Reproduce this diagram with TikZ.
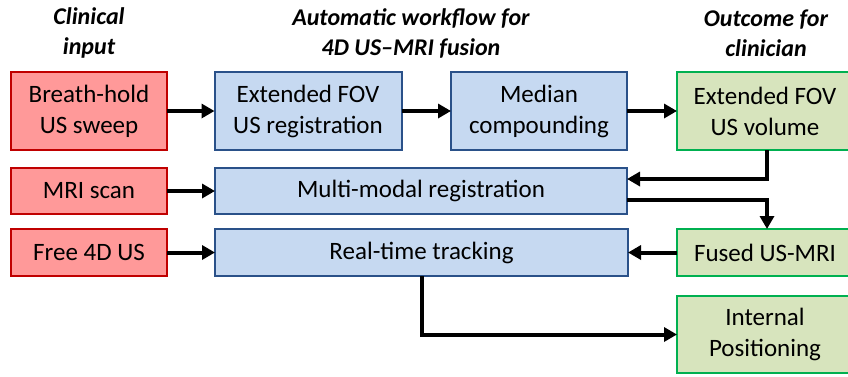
\documentclass[tikz,border=0pt]{standalone}
\usepackage{fontspec}
\setmainfont{Carlito}
\usetikzlibrary{positioning, arrows.meta, calc}
\definecolor{redfill}{HTML}{FF9999}
\definecolor{redline}{HTML}{C00000}
\definecolor{bluefill}{HTML}{C6D9F1}
\definecolor{blueline}{HTML}{2A5189}
\definecolor{greenfill}{HTML}{D7E4BD}
\definecolor{greenline}{HTML}{00B050}
\tikzset{
  box/.style={draw, line width=2pt, align=center, inner sep=2pt, outer sep=0pt,
    font=\fontsize{25}{31}\selectfont},
  inbox/.style={box, fill=redfill, draw=redline},
  wfbox/.style={box, fill=bluefill, draw=blueline},
  outbox/.style={box, fill=greenfill, draw=greenline},
  head/.style={align=center, font=\fontsize{24}{30}\selectfont\bfseries\itshape},
  flow/.style={line width=4pt, -{Triangle[length=13pt,width=14pt]}}
}
\begin{document}
\begin{tikzpicture}[x=1pt, y=-1pt]
\useasboundingbox (0,0) rectangle (848,376);
\clip (0,0) rectangle (848,376);
\node[head] (hin) at (89,33) {Clinical\\input};
\node[head] (hwf) at (411,33) {Automatic workflow for\\4D US--MRI fusion};
\node[head] (hout) at (766,33) {Outcome for\\clinician};
% clinical input
\node[inbox, minimum width=156pt, minimum height=78pt] (sweep) at (89,111) {Breath-hold\\US sweep};
\node[inbox, minimum width=156pt, minimum height=46pt] (mri) at (89,191) {MRI scan};
\node[inbox, minimum width=156pt, minimum height=47pt] (free) at (89,252.5) {Free 4D US};
% workflow
\node[wfbox, minimum width=187pt, minimum height=78pt] (fovreg) at (308,111) {Extended FOV\\US registration};
\node[wfbox, minimum width=176pt, minimum height=78pt] (median) at (539,111) {Median\\compounding};
\node[wfbox, minimum width=412pt, minimum height=46pt] (multi) at (421,191) {Multi-modal registration};
\node[wfbox, minimum width=413pt, minimum height=47pt] (track) at (421.5,252.5) {Real-time tracking};
% outcome
\node[outbox, minimum width=176pt, minimum height=78pt] (volume) at (765,111) {Extended FOV\\US volume};
\node[outbox, minimum width=176pt, minimum height=47pt] (fused) at (765,252.5) {Fused US-MRI};
\node[outbox, minimum width=176pt, minimum height=77pt] (intpos) at (765,334.5) {Internal\\Positioning};
\draw[flow] (sweep) -- (fovreg);
\draw[flow] (fovreg) -- (median);
\draw[flow] (median) -- (volume);
\draw[flow] (mri) -- (multi);
\draw[flow] (free) -- (track);
\draw[flow] ([xshift=2pt]volume.south) |- ([yshift=12pt]multi.east);
\draw[flow] ([yshift=-9pt]multi.east) -| ([xshift=2pt]fused.north);
\draw[flow] (fused) -- (track);
\draw[flow] (track.south) |- (intpos.west);
\end{tikzpicture}
\end{document}
